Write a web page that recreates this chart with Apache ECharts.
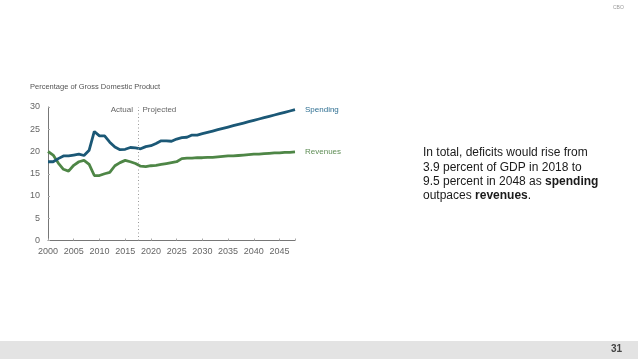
<!DOCTYPE html>
<html><head><meta charset="utf-8">
<script src="https://cdn.jsdelivr.net/npm/echarts@6/dist/echarts.min.js"></script>
<style>html,body{margin:0;padding:0;background:#fff}#c{width:638px;height:359px}</style>
</head><body><div id="c"></div>
<script>
var years = [];
for (var y = 2000; y <= 2048; y++) years.push(y);
var spending = [17.7,17.7,18.4,19.0,19.0,19.2,19.4,19.1,20.3,24.5,23.5,23.5,22.1,21.0,20.4,20.5,20.9,20.8,20.6,21.1,21.3,21.8,22.4,22.4,22.3,22.8,23.1,23.2,23.7,23.7,24.0,24.3,24.6,24.9,25.2,25.5,25.8,26.1,26.4,26.7,27.0,27.3,27.6,27.9,28.2,28.5,28.8,29.1,29.4];
var revenues = [20.0,19.2,17.4,16.0,15.6,16.9,17.7,18.0,17.1,14.6,14.6,15.0,15.3,16.8,17.5,18.0,17.7,17.3,16.7,16.6,16.8,16.9,17.1,17.3,17.5,17.7,18.4,18.5,18.5,18.6,18.6,18.7,18.7,18.8,18.9,19.0,19.0,19.1,19.2,19.3,19.4,19.4,19.5,19.6,19.7,19.7,19.8,19.8,19.9];
var yTicks = [0,5,10,15,20,25,30];
var boundaryYear = 2017.5;

var F = "'Liberation Sans', Arial, sans-serif";
function pairs(v){ return years.map(function(y,i){ return [y, v[i]]; }); }

var chart = echarts.init(document.getElementById('c'), null, {renderer:'canvas'});
chart.setOption({
  animation: false,
  backgroundColor: '#ffffff',
  title: {
    text: 'In total, deficits would rise from\n3.9 percent of GDP in 2018 to\n9.5 percent in 2048 as {b|spending}\noutpaces {b|revenues}.',
    left: 423, top: 146, padding: 0,
    textStyle: {
      fontFamily: F, fontSize: 12, fontWeight: 'normal', color: '#1a1a1a', lineHeight: 14.2,
      rich: { b: { fontFamily: F, fontSize: 12, fontWeight: 'bold', color: '#1a1a1a', lineHeight: 14.2 } }
    }
  },
  grid: { left: 48, right: 343, top: 107, bottom: 118.5 },
  xAxis: {
    type: 'value', min: 2000, max: 2048, interval: 5,
    axisLine: { lineStyle: { color: '#777', width: 1 } },
    axisTick: { inside: true, length: 2, lineStyle: { color: '#aaa' } },
    splitLine: { show: false },
    axisLabel: {
      color: '#666', fontFamily: F, fontSize: 9, margin: 7,
      formatter: function(v){ return v % 5 === 0 ? String(v) : ''; }
    }
  },
  yAxis: {
    type: 'value', min: 0, max: 30, interval: 5,
    axisLine: { show: true, lineStyle: { color: '#777', width: 1 } },
    axisTick: { show: true, inside: true, length: 2, lineStyle: { color: '#aaa' } },
    splitLine: { show: false },
    axisLabel: { color: '#666', fontFamily: F, fontSize: 9, margin: 8,
      formatter: function(v){ return yTicks.indexOf(v) >= 0 ? String(v) : ''; } }
  },
  graphic: [
    { type: 'text', left: 30, top: 83, style: { text: 'Percentage of Gross Domestic Product', fill: '#555', font: '7.5px ' + F } },
    { type: 'text', right: 505, top: 106, style: { text: 'Actual', fill: '#666', font: '8px ' + F } },
    { type: 'text', left: 142.5, top: 106, style: { text: 'Projected', fill: '#666', font: '8px ' + F } },
    { type: 'rect', shape: { x: 0, y: 341, width: 638, height: 18 }, style: { fill: '#e3e3e3' }, z: -1 },
    { type: 'text', left: 611, top: 344, style: { text: '31', fill: '#444', font: 'bold 10px ' + F } },
    { type: 'text', left: 613, top: 5, style: { text: 'CBO', fill: '#999', font: '5px ' + F } }
  ],
  series: [
    {
      name: 'Spending', type: 'line', data: pairs(spending), showSymbol: false, smooth: false,
      lineStyle: { color: '#1b5876', width: 2.8 }, itemStyle: { color: '#1b5876' },
      endLabel: { show: true, formatter: 'Spending', color: '#2f6f92', fontFamily: F, fontSize: 8, distance: 10 },
      markLine: {
        silent: true, symbol: 'none', label: { show: false },
        lineStyle: { color: '#999', type: [1, 2.5], width: 1 },
        data: [{ xAxis: boundaryYear }]
      },
      z: 3
    },
    {
      name: 'Revenues', type: 'line', data: pairs(revenues), showSymbol: false, smooth: false,
      lineStyle: { color: '#4e8646', width: 2.8 }, itemStyle: { color: '#4e8646' },
      endLabel: { show: true, formatter: 'Revenues', color: '#5e8d55', fontFamily: F, fontSize: 8, distance: 10 },
      z: 2
    }
  ]
});
</script>
</body></html>
